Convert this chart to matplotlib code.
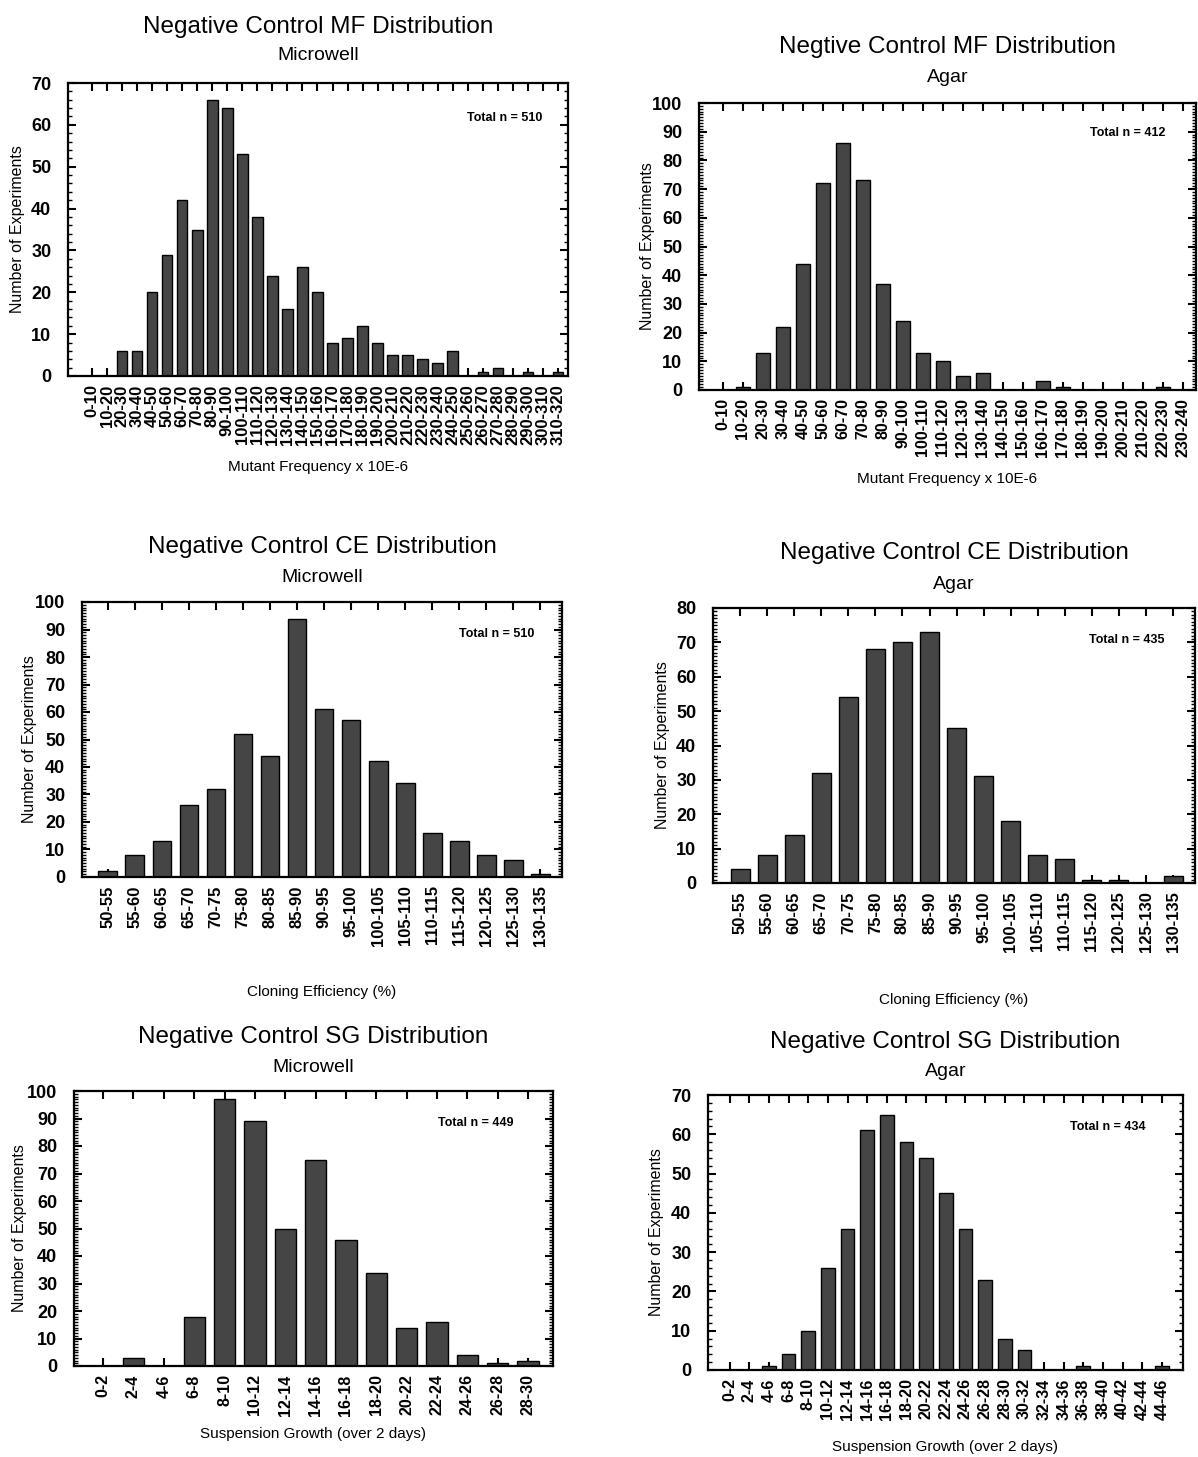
import matplotlib
matplotlib.use("Agg")
import matplotlib.pyplot as plt
from matplotlib.ticker import MultipleLocator

plt.rcParams['font.family'] = ['Liberation Sans', 'DejaVu Sans']

# ---------------- data ----------------
mf_mw_labels = [f"{a}-{a+10}" for a in range(0, 320, 10)]
mf_mw_values = [0, 0, 6, 6, 20, 29, 42, 35, 66, 64, 53, 38, 24, 16, 26, 20,
                8, 9, 12, 8, 5, 5, 4, 3, 6, 0, 1, 2, 0, 1, 0, 1]

mf_agar_labels = [f"{a}-{a+10}" for a in range(0, 240, 10)]
mf_agar_values = [0, 1, 13, 22, 44, 72, 86, 73, 37, 24, 13, 10, 5, 6,
                  0, 0, 3, 1, 0, 0, 0, 0, 1, 0]

ce_mw_labels = [f"{a}-{a+5}" for a in range(50, 135, 5)]
ce_mw_values = [2, 8, 13, 26, 32, 52, 44, 94, 61, 57, 42, 34, 16, 13, 8, 6, 1]

ce_agar_labels = [f"{a}-{a+5}" for a in range(50, 135, 5)]
ce_agar_values = [4, 8, 14, 32, 54, 68, 70, 73, 45, 31, 18, 8, 7, 1, 1, 0, 2]

sg_mw_labels = [f"{a}-{a+2}" for a in range(0, 30, 2)]
sg_mw_values = [0, 3, 0, 18, 97, 89, 50, 75, 46, 34, 14, 16, 4, 1, 2]

sg_agar_labels = [f"{a}-{a+2}" for a in range(0, 46, 2)]
sg_agar_values = [0, 0, 1, 4, 10, 26, 36, 61, 65, 58, 54, 45, 36, 23, 8, 5,
                  0, 0, 1, 0, 0, 0, 1]

W, H = 1198, 1457
fig = plt.figure(figsize=(W / 100, H / 100), dpi=100)


def px(x, y):
    return x / W, 1 - y / H


def panel(rect, labels, values, ymax, minor, xpad, title, sub, title_y,
          sub_y, xlabel, xlabel_y, ylabel_x, total, total_xy, xtick_fs):
    l, t, r, b = rect
    ax = fig.add_axes([l / W, 1 - b / H, (r - l) / W, (b - t) / H])
    n = len(values)
    ax.bar(range(n), values, width=0.7, color='#454545', edgecolor='black',
           linewidth=1.0, zorder=2)
    ax.set_xlim(-xpad[0], n - 1 + xpad[1])
    ax.set_ylim(0, ymax)
    ax.set_xticks(range(n))
    ax.set_xticklabels(labels, rotation=90, fontweight='bold',
                       fontsize=xtick_fs)
    ax.yaxis.set_major_locator(MultipleLocator(10))
    ax.yaxis.set_minor_locator(MultipleLocator(minor))
    for lab in ax.get_yticklabels():
        lab.set_fontweight('bold')
    ax.tick_params(axis='x', direction='in', top=True, length=6, width=1.5,
                   pad=6)
    ax.tick_params(axis='y', which='major', direction='in', right=True,
                   length=6, width=1.5, labelsize=13, pad=12)
    ax.tick_params(axis='y', which='minor', direction='in', right=True,
                   length=3, width=1.0)
    for s in ax.spines.values():
        s.set_linewidth(1.6)
    cx = (l + r) / 2
    fig.text(*px(cx, title_y), title, ha='center', va='center', fontsize=17.5)
    fig.text(*px(cx, sub_y), sub, ha='center', va='center', fontsize=14)
    fig.text(*px(cx, xlabel_y), xlabel, ha='center', va='center',
             fontsize=11)
    fig.text(*px(ylabel_x, (t + b) / 2), "Number of Experiments",
             ha='center', va='center', rotation=90, fontsize=11.5)
    fig.text(*px(*total_xy), total, ha='center', va='center', fontsize=9,
             fontweight='bold')
    return ax


panel((68, 83, 568, 376), mf_mw_labels, mf_mw_values, 70, 2, (1.6, 0.67),
      "Negative Control MF Distribution", "Microwell", 27, 56,
      "Mutant Frequency x 10E-6", 467, 18, "Total n = 510", (505, 118), 12)

panel((699, 103, 1196, 390), mf_agar_labels, mf_agar_values, 100, 1,
      (1.2, 0.65),
      "Negtive Control MF Distribution", "Agar", 47, 78,
      "Mutant Frequency x 10E-6", 479, 648, "Total n = 412", (1128, 133), 11.5)

panel((82, 602, 562, 877), ce_mw_labels, ce_mw_values, 100, 1, (0.96, 0.81),
      "Negative Control CE Distribution", "Microwell", 547, 578,
      "Cloning Efficiency (%)", 992, 30, "Total n = 510", (497, 634), 12)

panel((713, 608, 1195, 883), ce_agar_labels, ce_agar_values, 80, 1,
      (1.0, 0.81),
      "Negative Control CE Distribution", "Agar", 553, 585,
      "Cloning Efficiency (%)", 1000, 662, "Total n = 435", (1127, 640), 12)

panel((74, 1091, 553, 1366), sg_mw_labels, sg_mw_values, 100, 1,
      (0.96, 0.82),
      "Negative Control SG Distribution", "Microwell", 1037, 1068,
      "Suspension Growth (over 2 days)", 1434, 20, "Total n = 449",
      (476, 1123), 11.5)

panel((708, 1095, 1183, 1370), sg_agar_labels, sg_agar_values, 70, 2,
      (1.1, 1.07),
      "Negative Control SG Distribution", "Agar", 1042, 1072,
      "Suspension Growth (over 2 days)", 1447, 657, "Total n = 434",
      (1108, 1127), 11.5)

fig.savefig("out.png", dpi=100)
